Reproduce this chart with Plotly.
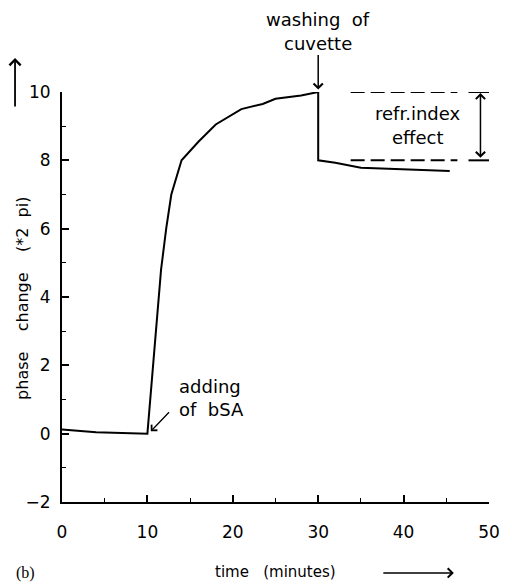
import plotly.graph_objects as go

time_min = [0, 4, 10, 10.5, 11, 11.6, 12.2, 12.8, 14, 16, 18, 21, 23.5, 25, 28, 30, 30, 32, 35, 40, 45.4]
phase = [0.12, 0.04, 0.0, 1.5, 3.2, 4.8, 6.0, 7.0, 8.0, 8.55, 9.05, 9.5, 9.65, 9.8, 9.9, 10.0, 8.0, 7.93, 7.78, 7.73, 7.69]

x_ticks = [0, 10, 20, 30, 40, 50]
y_ticks = [-2, 0, 2, 4, 6, 8, 10]
ref_levels = [10, 8]

FONT = "DejaVu Sans"
S = "\u00a0"

fig = go.Figure()
fig.add_trace(go.Scatter(x=time_min, y=phase, mode="lines",
                         line=dict(color="black", width=2), showlegend=False))

for lv in ref_levels:
    fig.add_shape(type="line", x0=33.8, x1=46.3, y0=lv, y1=lv,
                  line=dict(color="black", width=2, dash="14px,6px"))
    fig.add_shape(type="line", x0=47.6, x1=50.2, y0=lv, y1=lv,
                  line=dict(color="black", width=2))

anns = []
# double arrow
anns.append(dict(x=49, y=9.97, ax=49, ay=8.03, xref="x", yref="y", axref="x", ayref="y",
                 showarrow=True, arrowhead=4, arrowside="end+start", arrowsize=1.2,
                 arrowwidth=1.5, arrowcolor="black", text=""))
# washing arrow
anns.append(dict(x=0.6, y=1.006, xref="paper", yref="paper", ax=0, ay=-36,
                 showarrow=True, arrowhead=4, arrowsize=1.2, arrowwidth=1.5,
                 arrowcolor="black", text=""))
# adding arrow
anns.append(dict(x=10.4, y=0.07, ax=12.7, ay=0.67, xref="x", yref="y", axref="x", ayref="y",
                 showarrow=True, arrowhead=4, arrowsize=1.2, arrowwidth=1.3,
                 arrowcolor="black", text=""))
texts = [("refr.index", 41.65, 9.36), ("effect", 41.65, 8.68),
         ("adding", 17.3, 1.37), ("of" + S * 2 + "bSA", 17.5, 0.70)]
for t, x, y in texts:
    anns.append(dict(x=x, y=y, xref="x", yref="y", text=t, showarrow=False,
                     xanchor="center", yanchor="middle",
                     font=dict(family=FONT, size=18, color="black")))
for t, y in [("washing" + S * 2 + "of", 1.178), ("cuvette", 1.1195)]:
    anns.append(dict(x=0.599, y=y, xref="paper", yref="paper", text=t, showarrow=False,
                     xanchor="center", yanchor="middle",
                     font=dict(family=FONT, size=18, color="black")))
# y axis title
anns.append(dict(x=-0.0915, y=0.4976, xref="paper", yref="paper",
                 text="phase" + S * 4 + "change" + S * 4 + "(*2" + S * 2 + "pi)",
                 textangle=-90, showarrow=False, xanchor="center", yanchor="middle",
                 font=dict(family=FONT, size=16, color="black")))
# y arrow
anns.append(dict(x=-0.11, y=1.083, xref="paper", yref="paper", ax=0, ay=50,
                 showarrow=True, arrowhead=4, arrowsize=1.2, arrowwidth=1.8,
                 arrowcolor="black", text=""))
# x title
anns.append(dict(x=0.5, y=-0.171, xref="paper", yref="paper",
                 text="time" + S * 3 + "(minutes)", showarrow=False,
                 xanchor="center", yanchor="middle",
                 font=dict(family=FONT, size=15, color="black")))
anns.append(dict(x=0.9176, y=-0.173, xref="paper", yref="paper", ax=-72, ay=0,
                 showarrow=True, arrowhead=4, arrowsize=1.2, arrowwidth=1.5,
                 arrowcolor="black", text=""))
anns.append(dict(x=-0.0847, y=-0.174, xref="paper", yref="paper",
                 text="(b)", showarrow=False, xanchor="center", yanchor="middle",
                 font=dict(family="Liberation Serif", size=16, color="black")))

fig.update_layout(
    width=504, height=576,
    margin=dict(l=54, r=13, t=84, b=82),
    paper_bgcolor="white", plot_bgcolor="white",
    annotations=anns,
    font=dict(family=FONT, size=17, color="black"),
    xaxis=dict(range=[0, 50], tickvals=x_ticks, showgrid=False, zeroline=False,
               showline=True, linecolor="black", linewidth=2,
               ticks="inside", ticklen=7, tickwidth=1.6, tickcolor="black",
               minor=dict(tickvals=[5, 15, 25, 35, 45], ticks="inside", ticklen=4,
                          tickwidth=1.3, tickcolor="black"),
               ticklabelstandoff=14, tickfont=dict(family=FONT, size=17)),
    yaxis=dict(range=[-2, 10], tickvals=y_ticks, showgrid=False, zeroline=False,
               showline=True, linecolor="black", linewidth=2,
               ticks="inside", ticklen=7, tickwidth=1.6, tickcolor="black",
               minor=dict(tickvals=[-1, 1, 3, 5, 7, 9], ticks="inside", ticklen=4,
                          tickwidth=1.3, tickcolor="black"),
               ticklabelstandoff=6, tickfont=dict(family=FONT, size=17)),
)

fig.write_html("out.html")
